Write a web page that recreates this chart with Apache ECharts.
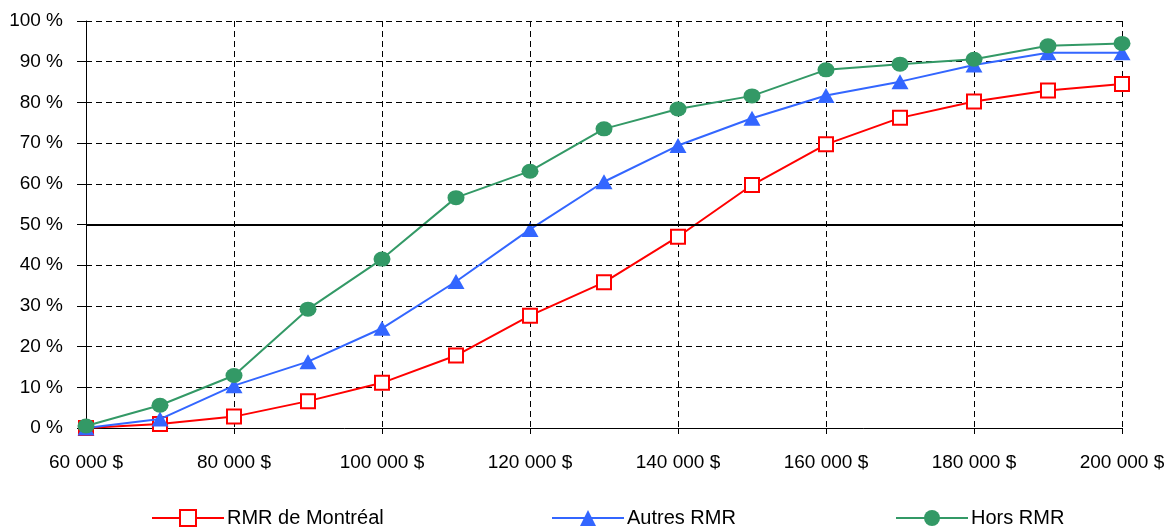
<!DOCTYPE html>
<html>
<head>
<meta charset="utf-8">
<script src="https://cdn.jsdelivr.net/npm/echarts@6/dist/echarts.min.js"></script>
<style>
html,body{margin:0;padding:0;background:#fff;}
#chart{width:1173px;height:529px;}
</style>
</head>
<body>
<div id="chart"></div>
<script>
var incomes = [60000, 70000, 80000, 90000, 100000, 110000, 120000, 130000, 140000, 150000, 160000, 170000, 180000, 190000, 200000];
var montreal = [0, 1.0, 2.8, 6.6, 11.1, 17.8, 27.6, 35.8, 47.0, 59.7, 69.7, 76.2, 80.2, 82.9, 84.5];
var autres = [0, 2.2, 10.4, 16.3, 24.5, 36.0, 48.8, 60.5, 69.4, 76.1, 81.7, 85.1, 89.2, 92.2, 92.2];
var hors = [0.5, 5.6, 12.9, 29.2, 41.5, 56.6, 63.1, 73.5, 78.4, 81.6, 88.0, 89.4, 90.6, 93.9, 94.5];
var seriesNames = ['RMR de Montréal', 'Autres RMR', 'Hors RMR'];

function pairs(vals){ return incomes.map(function(x,i){ return [x, vals[i]]; }); }
function fmtMoney(v){ return String(v).replace(/\B(?=(\d{3})+(?!\d))/g, ' ') + ' $'; }

var FONT = '"Liberation Sans", Arial, sans-serif';
var chart = echarts.init(document.getElementById('chart'), null, {renderer:'canvas'});

function legendAt(name, left){
  return {
    data:[name], left:left, top:503, itemWidth:72, itemHeight:20, itemGap:0,
    textStyle:{fontFamily:FONT, fontSize:20, color:'#000', padding:[0,0,0,-2]},
    selectedMode:false
  };
}

chart.setOption({
  animation:false,
  backgroundColor:'#fff',
  grid:{left:86, right:51, top:21, bottom:101},
  legend:[legendAt(seriesNames[0],146), legendAt(seriesNames[1],546), legendAt(seriesNames[2],890)],
  xAxis:{
    type:'value', min:60000, max:200000, interval:20000,
    axisLine:{lineStyle:{color:'#000', width:1}},
    axisTick:{length:6, lineStyle:{color:'#000'}},
    axisLabel:{margin:25, fontFamily:FONT, fontSize:19, color:'#000', formatter:fmtMoney},
    splitLine:{show:true, lineStyle:{color:'#000', width:1, type:[6,4]}}
  },
  yAxis:{
    type:'value', min:0, max:100, interval:10,
    axisLine:{show:true, lineStyle:{color:'#000', width:1}},
    axisTick:{show:true, length:9, lineStyle:{color:'#000'}},
    axisLabel:{margin:23, fontFamily:FONT, fontSize:19, color:'#000', formatter:function(v){return v+' %';}},
    splitLine:{show:true, lineStyle:{color:'#000', width:1, type:[6,4]}}
  },
  series:[
    {
      name:seriesNames[0], type:'line', data:pairs(montreal),
      symbol:'rect', symbolSize:14, showAllSymbol:true,
      lineStyle:{color:'#FF0000', width:2},
      itemStyle:{color:'#fff', borderColor:'#FF0000', borderWidth:2},
      markLine:{
        silent:true, symbol:['none','none'], label:{show:false},
        lineStyle:{color:'#000', width:2, type:'solid'},
        data:[{yAxis:50}]
      },
      z:2
    },
    {
      name:seriesNames[1], type:'line', data:pairs(autres),
      symbol:'triangle', symbolSize:[17,15], showAllSymbol:true,
      lineStyle:{color:'#3366FF', width:2},
      itemStyle:{color:'#3366FF'},
      z:3
    },
    {
      name:seriesNames[2], type:'line', data:pairs(hors),
      symbol:'circle', symbolSize:[17,15], showAllSymbol:true,
      lineStyle:{color:'#339966', width:2},
      itemStyle:{color:'#339966'},
      z:4
    }
  ]
});
</script>
</body>
</html>
